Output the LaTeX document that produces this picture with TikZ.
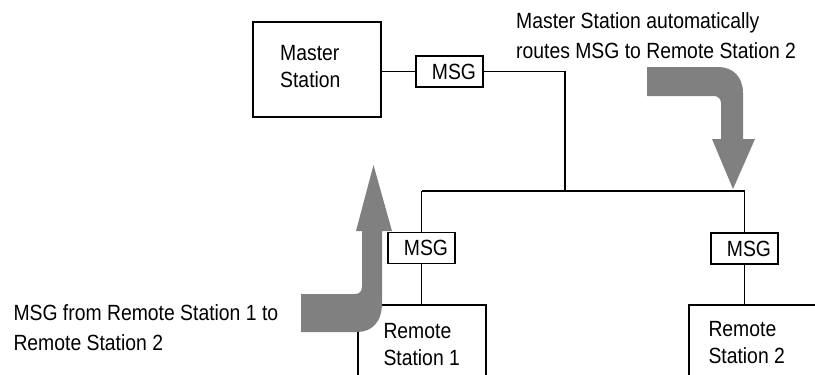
\documentclass[tikz,border=0pt]{standalone}
\usepackage{fontspec}
\setmainfont{Liberation Sans}[FakeStretch=0.88]
\begin{document}
\begin{tikzpicture}[x=1pt,y=-1pt,
  wire/.style={line width=1.1pt},
  stationbox/.style={draw, line width=1.1pt, inner sep=0pt, rectangle},
  msgbox/.style={draw, line width=1.1pt, rectangle, minimum height=31pt,
    text width=53pt, inner xsep=7pt, inner ysep=0pt, align=right,
    font=\fontsize{22}{27}\selectfont},
  notetext/.style={inner sep=0pt, anchor=base west, align=left,
    font=\fontsize{22}{30}\selectfont},
  boxtext/.style={inner sep=0pt, anchor=base west, align=left,
    font=\fontsize{22}{27}\selectfont},
  bigarrow/.style={fill=gray, draw=none}]
\clip (0,0) rectangle (815,375);

% boxes
\node[stationbox, minimum width=128pt, minimum height=95pt] (master) at (317,69.5) {};
\node[stationbox, minimum width=128pt, minimum height=95pt] (rs1) at (422,352.5) {};
\node[stationbox, minimum width=151pt, minimum height=95pt] (rs2) at (764.5,352.5) {};
\node[msgbox] (msg0) at (449.5,71.5) {MSG};
\node[msgbox] (msg1) at (421.5,248) {MSG};
\node[msgbox] (msg2) at (744.5,248.5) {MSG};

% texts (anchored at the baseline of their last line)
\node[boxtext] (tmaster) at (280,87.3) {Master\\Station};
\node[boxtext] (trs1) at (383.3,365) {Remote\\Station 1};
\node[boxtext] (trs2) at (708.3,363.3) {Remote\\Station 2};
\node[notetext] (note1) at (516,58.3) {Master Station automatically\\routes MSG to Remote Station 2};
\node[notetext] (note2) at (13.3,350) {MSG from Remote Station 1 to\\Remote Station 2};

% wiring
\coordinate (busM) at (565,191);
\coordinate (busL) at (421.5,191);
\coordinate (busR) at (744.5,191);
\draw[wire] (master.east |- msg0.west) -- (msg0.west);
\draw[wire] (msg0.east) -| (busM);
\draw[wire] (busL) -- (busR);
\draw[wire] (busL) -- (msg1.north);
\draw[wire] (busR) -- (msg2.north);
\draw[wire] (msg1.south) -- (msg1.south |- rs1.north);
\draw[wire] (msg2.south) -- (msg2.south |- rs2.north);

% big gray arrows
\fill[bigarrow] (301,294) -- (355,294)
  .. controls (360,294) and (362,291) .. (362,286)
  -- (362,231) -- (356,231) -- (373.5,165) -- (392,231) -- (382,231)
  -- (382,303) .. controls (382,322) and (372,332) .. (357,332)
  -- (301,332) -- cycle;
\fill[bigarrow] (647,67) -- (718,67)
  .. controls (733,67) and (743,77) .. (743,93)
  -- (743,139) -- (755,139) -- (733,189) -- (712,139) -- (721,139)
  -- (721,103) .. controls (721,99) and (718,96) .. (714,96)
  -- (647,96) -- cycle;
\end{tikzpicture}
\end{document}
